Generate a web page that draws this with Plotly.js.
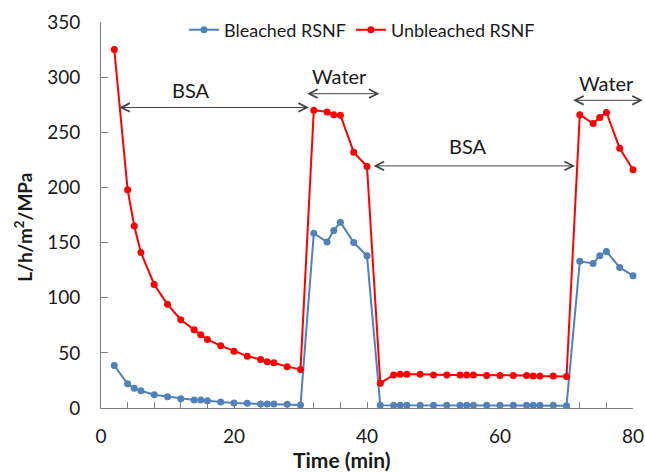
<!DOCTYPE html>
<html>
<head>
<meta charset="utf-8">
<script src="https://cdn.plot.ly/plotly-3.0.1.min.js"></script>
<style>html,body{margin:0;padding:0;background:#fff;}#chart{width:645px;height:472px;}</style>
</head>
<body>
<div id="chart"></div>
<script>
const time = [2,4,5,6,8,10,12,14,15,16,18,20,22,24,25,26,28,30,
  32,34,35,36,38,40,
  42,44,45,46,48,50,52,54,55,56,58,60,62,64,65,66,68,70,
  72,74,75,76,78,80];
const unbleached = [325,198,165,141,112,94,80,71,66.5,62,56.5,51.5,47,44,42,41,37.5,35,
  270,268.5,266,265.5,232,219,
  22.5,30,30.5,30.5,30.5,30,30,30,30,30,29.5,29.5,29.5,29.5,29,29,29,28.5,
  266,258,263.5,268,235.5,216];
const bleached = [38.5,22,18,15.7,12,10.3,8.5,7.3,7.3,6.6,5.4,4.5,4.2,3.6,3.6,3.6,3.3,2.7,
  158.5,150.5,161,168.5,150,138,
  2.5,2.5,2.5,2.5,2.5,2.5,2.5,2.5,2.5,2.5,2.5,2.5,2.5,2.5,2.5,2.5,2.5,2,
  133,131,138,142,127.5,120];
const seriesNames = ["Bleached RSNF", "Unbleached RSNF"];
const xTitle = "Time (min)";
const yTitle = "L/h/m<sup>2</sup>/MPa";
const phaseLabels = ["BSA", "Water", "BSA", "Water"];
const phaseStart = [2.75, 31, 41, 71];
const phaseEnd = [31.5, 42.1, 71.5, 81.7];
const phaseArrowY = [272.5, 285, 219.5, 279];
const phaseLabelX = [13.6, 35.8, 55.2, 76];
const phaseLabelY = [288, 301, 238, 295];

const font = "Lato, 'Open Sans', sans-serif";
const traces = [
  {x: time, y: bleached, name: seriesNames[0], mode: "lines+markers", cliponaxis: false,
   line: {color: "#4F81BD", width: 2}, marker: {color: "#4F81BD", size: 7}},
  {x: time, y: unbleached, name: seriesNames[1], mode: "lines+markers", cliponaxis: false,
   line: {color: "#FF0000", width: 2}, marker: {color: "#FF0000", size: 7}}
];
const xMax = 80, xMin = 0, plotW = 532;
const annotations = [];
for (let i = 0; i < phaseLabels.length; i++) {
  // arrows referenced to paper in x so they are not clipped at the plot edge
  annotations.push({x: (phaseStart[i] - xMin) / (xMax - xMin), y: phaseArrowY[i],
    ax: (phaseEnd[i] - phaseStart[i]) / (xMax - xMin) * plotW, ay: 0,
    xref: "paper", yref: "y", axref: "pixel", ayref: "pixel", text: "", showarrow: true,
    arrowhead: 5, startarrowhead: 5, arrowside: "end+start", arrowsize: 1.7, startarrowsize: 1.7,
    arrowwidth: 1, arrowcolor: "#404040"});
  annotations.push({x: phaseLabelX[i], y: phaseLabelY[i], xref: "x", yref: "y", text: phaseLabels[i],
    showarrow: false, font: {family: font, size: 20, color: "#1a1a1a"}});
}
// axis titles (placed as in the reference, slightly off-centre)
annotations.push({x: 0.453, y: -0.134, xref: "paper", yref: "paper", text: "<b>" + xTitle + "</b>",
  showarrow: false, xanchor: "center", yanchor: "middle", font: {family: font, size: 21, color: "#1a1a1a"}});
annotations.push({x: -0.145, y: 0.469, xref: "paper", yref: "paper", text: "<b>" + yTitle + "</b>",
  showarrow: false, textangle: -90, xanchor: "center", yanchor: "middle", font: {family: font, size: 19, color: "#1a1a1a"}});

const layout = {
  width: 645, height: 472,
  margin: {l: 101, r: 12, t: 22, b: 64},
  paper_bgcolor: "#fff", plot_bgcolor: "#fff",
  font: {family: font, size: 19, color: "#1a1a1a"},
  showlegend: true,
  legend: {orientation: "h", x: 0.156, y: 0.979, xanchor: "left", yanchor: "middle",
    font: {family: font, size: 18, color: "#1a1a1a"}, bgcolor: "rgba(0,0,0,0)", itemwidth: 30, tracegroupgap: 0},
  xaxis: {range: [xMin, xMax], dtick: 20, tick0: 0, ticks: "inside", ticklen: 6, tickcolor: "#808080",
    showline: true, linecolor: "#808080", linewidth: 1, showgrid: false, zeroline: false,
    ticklabelstandoff: 11, tickfont: {size: 19},
    minor: {dtick: 4, ticks: "inside", ticklen: 6, tickcolor: "#808080", showgrid: false}},
  yaxis: {range: [0, 350], dtick: 50, ticks: "inside", ticklen: 7, tickcolor: "#808080",
    showline: true, linecolor: "#808080", linewidth: 1, showgrid: false, zeroline: false,
    ticklabelstandoff: 16, tickfont: {size: 19}},
  annotations: annotations
};
Plotly.newPlot("chart", traces, layout, {displayModeBar: false, staticPlot: true});
</script>
</body>
</html>
